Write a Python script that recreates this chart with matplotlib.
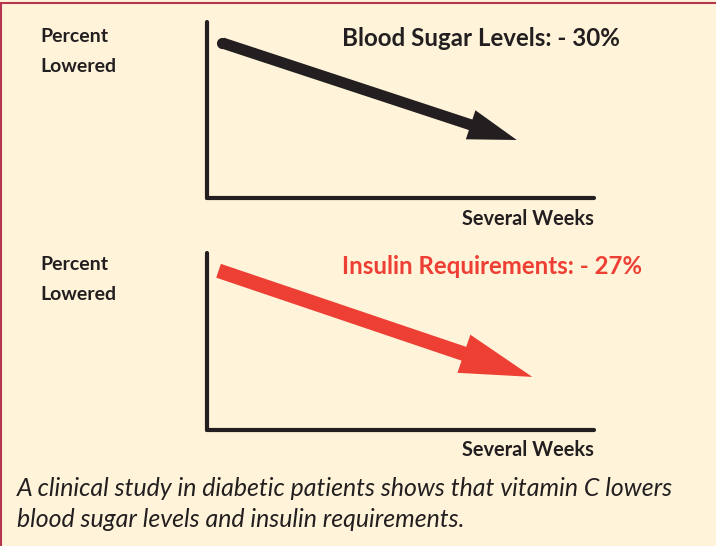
import matplotlib.pyplot as plt
from matplotlib.patches import FancyArrowPatch
from matplotlib.lines import Line2D

# %% Donnees
weeks_sugar = [0.4, 8.0]        # debut / fin de la fleche (semaines)
level_sugar = [88, 33]          # niveau relatif (%)
weeks_insulin = [0.3, 8.4]
level_insulin = [90, 30]

titles = ['Blood Sugar Levels: - 30%', 'Insulin Requirements: - 27%']
xlabel = 'Several Weeks'
caption = ('A clinical study in diabetic patients shows that vitamin C lowers\n'
           'blood sugar levels and insulin requirements.')

# %% Styles
bg = '#FFF4DA'
ink = '#231F20'
red = '#EE3F34'
border = '#B5374F'
font = 'Lato'

fig = plt.figure(figsize=(7.16, 5.46), dpi=100, facecolor=bg)

ax1 = fig.add_axes([0.289, 0.637, 0.541, 0.323])
ax2 = fig.add_axes([0.289, 0.2125, 0.541, 0.324])

for ax in (ax1, ax2):
    ax.set_facecolor('none')
    ax.set_xlim(0, 10)
    ax.set_ylim(0, 100)
    for s in ('top', 'right'):
        ax.spines[s].set_visible(False)
    for s in ('left', 'bottom'):
        ax.spines[s].set_linewidth(3.0)
        ax.spines[s].set_color(ink)
        ax.spines[s].set_capstyle('round')
    ax.set_xticks([])
    ax.set_yticks([])

# fleche noire (glycemie)
arr1 = FancyArrowPatch((weeks_sugar[0], level_sugar[0]), (weeks_sugar[1], level_sugar[1]),
                       arrowstyle='simple,tail_width=8,head_width=22,head_length=35',
                       mutation_scale=1, shrinkA=0, shrinkB=0, color=ink, lw=0)
ax1.add_patch(arr1)
ax1.plot(weeks_sugar[0], level_sugar[0], 'o', ms=8, color=ink, mec='none')

# fleche rouge (insuline)
arr2 = FancyArrowPatch((weeks_insulin[0], level_insulin[0]), (weeks_insulin[1], level_insulin[1]),
                       arrowstyle='simple,tail_width=10.5,head_width=29,head_length=52',
                       mutation_scale=1, shrinkA=0, shrinkB=0, color=red, lw=0)
ax2.add_patch(arr2)

# textes
fig.text(620 / 716, 1 - 38 / 546, titles[0], ha='right', va='center',
         fontsize=17.4, fontweight='bold', color=ink, family=font)
fig.text(642 / 716, 1 - 267 / 546, titles[1], ha='right', va='center',
         fontsize=17.3, fontweight='bold', color=red, family=font)

for ytop in (36, 265):
    fig.text(40 / 716, 1 - ytop / 546, 'Percent', ha='left', va='center',
             fontsize=14, fontweight='bold', color=ink, family=font)
    fig.text(40 / 716, 1 - (ytop + 30) / 546, 'Lowered', ha='left', va='center',
             fontsize=14, fontweight='bold', color=ink, family=font)

for yl in (219, 450):
    fig.text(594 / 716, 1 - yl / 546, xlabel, ha='right', va='center',
             fontsize=14.4, fontweight='bold', color=ink, family=font)

fig.text(17 / 716, 1 - 504 / 546, caption, ha='left', va='center',
         fontsize=17.9, fontstyle='italic', color=ink, family=font,
         linespacing=1.42)

# cadre (haut et gauche)
fig.add_artist(Line2D([0, 1], [1 - 3 / 546, 1 - 3 / 546], color=border, lw=1.5,
                      transform=fig.transFigure))
fig.add_artist(Line2D([0.5 / 716, 0.5 / 716], [0, 1 - 3 / 546], color=border, lw=1.5,
                      transform=fig.transFigure))

fig.savefig('out.png', dpi=100, facecolor=bg)
